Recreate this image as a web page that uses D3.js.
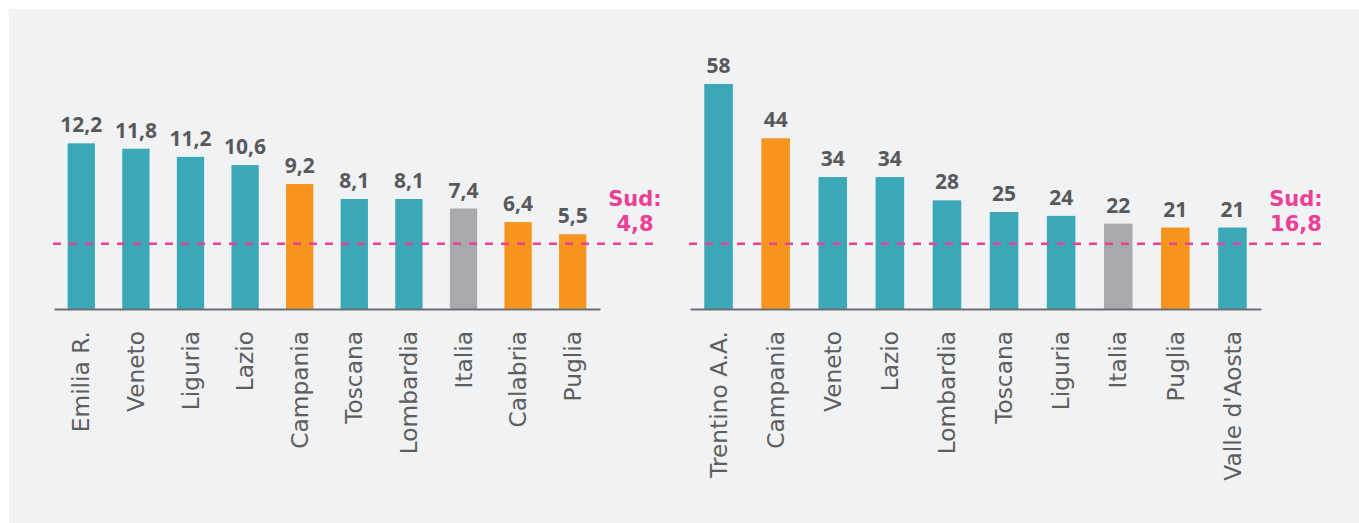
<!DOCTYPE html>
<html>
<head>
<meta charset="utf-8">
<script src="https://cdn.jsdelivr.net/npm/d3@7/dist/d3.min.js"></script>
<style>
  html, body { margin: 0; padding: 0; background: #ffffff; }
  svg { display: block; }
</style>
</head>
<body>
<svg id="chart" width="1359" height="523"></svg>
<script>
// Left panel: regions and values (one decimal)
const leftCategories = ["Emilia R.", "Veneto", "Liguria", "Lazio", "Campania", "Toscana", "Lombardia", "Italia", "Calabria", "Puglia"];
const leftValues = [12.2, 11.8, 11.2, 10.6, 9.2, 8.1, 8.1, 7.4, 6.4, 5.5];
const leftSud = 4.8;

// Right panel: regions and values (integers)
const rightCategories = ["Trentino A.A.", "Campania", "Veneto", "Lazio", "Lombardia", "Toscana", "Liguria", "Italia", "Puglia", "Valle d'Aosta"];
const rightValues = [58, 44, 34, 34, 28, 25, 24, 22, 21, 21];
const rightSud = 16.8;

// Regions of the South are highlighted, the national figure in gray
const southRegions = ["Campania", "Calabria", "Puglia"];
const nationalLabel = "Italia";

const COLORS = { base: "#3ba8b8", south: "#f7941d", national: "#a7a9ac", sud: "#ec3f95", text: "#58595b", axis: "#6d6e71" };

const itLocale = d3.formatLocale({ decimal: ",", thousands: ".", grouping: [3], currency: ["€", ""] });
const fmtDec = itLocale.format(".1f");
const fmtInt = itLocale.format("d");

const svg = d3.select("#chart");

// Panel background
svg.append("rect")
  .attr("x", 9).attr("y", 9)
  .attr("width", 1359 - 9).attr("height", 523 - 9)
  .attr("fill", "#f1f2f4");

const baseY = 309, topY = 37.4;

const panels = [
  { categories: leftCategories, values: leftValues, sud: leftSud, yMax: 20, x0: 54, x1: 600, lineStart: 53, lineExt: 54, valueFmt: fmtDec },
  { categories: rightCategories, values: rightValues, sud: rightSud, yMax: 70, x0: 690, x1: 1261, lineStart: 689, lineExt: 62, valueFmt: fmtInt }
];

function barColor(name) {
  if (name === nationalLabel) return COLORS.national;
  if (southRegions.includes(name)) return COLORS.south;
  return COLORS.base;
}

panels.forEach(p => {
  const data = p.categories.map((c, i) => ({ name: c, value: p.values[i] }));

  const x = d3.scaleBand()
    .domain(p.categories)
    .range([p.x0, p.x1])
    .paddingInner(0.5)
    .paddingOuter(0.25);

  const y = d3.scaleLinear()
    .domain([0, p.yMax])
    .range([baseY, topY]);

  const g = svg.append("g");

  // Bars
  g.selectAll("rect.bar")
    .data(data)
    .join("rect")
    .attr("class", "bar")
    .attr("x", d => x(d.name))
    .attr("y", d => y(d.value))
    .attr("width", x.bandwidth())
    .attr("height", d => y(0) - y(d.value))
    .attr("fill", d => barColor(d.name));

  // Value labels above bars
  g.selectAll("text.value")
    .data(data)
    .join("text")
    .attr("class", "value")
    .attr("x", d => x(d.name) + x.bandwidth() / 2)
    .attr("y", d => y(d.value) - 11)
    .attr("text-anchor", "middle")
    .attr("font-family", "'Open Sans', sans-serif")
    .attr("font-weight", 700)
    .attr("font-size", 21)
    .attr("fill", COLORS.text)
    .text(d => p.valueFmt(d.value));

  // Category axis with rotated labels
  const axis = g.append("g")
    .attr("transform", `translate(0,${baseY})`)
    .call(d3.axisBottom(x).tickSize(0).tickPadding(0));
  axis.select(".domain")
    .attr("stroke", COLORS.axis)
    .attr("stroke-width", 2);
  axis.selectAll(".tick text")
    .attr("transform", "rotate(-90)")
    .attr("x", -22)
    .attr("y", 0)
    .attr("dy", "0.35em")
    .attr("text-anchor", "end")
    .attr("font-family", "'DejaVu Sans', sans-serif")
    .attr("font-size", 23.3)
    .attr("fill", "#5d5e60");

  // Average of the South: dashed reference line
  const sy = y(p.sud);
  g.append("line")
    .attr("x1", p.lineStart)
    .attr("x2", p.x1 + p.lineExt)
    .attr("y1", sy).attr("y2", sy)
    .attr("stroke", COLORS.sud)
    .attr("stroke-width", 2.5)
    .attr("stroke-dasharray", "8,8");

  // Label of the reference line, two lines
  const lines = ["Sud:", fmtDec(p.sud)];
  g.selectAll("text.sud")
    .data(lines)
    .join("text")
    .attr("class", "sud")
    .attr("x", p.x1 + 35)
    .attr("y", (d, i) => sy - 13 - (lines.length - 1 - i) * 24.5)
    .attr("text-anchor", "middle")
    .attr("font-family", "'DejaVu Sans', sans-serif")
    .attr("font-weight", 700)
    .attr("font-size", 21)
    .attr("fill", COLORS.sud)
    .text(d => d);
});
</script>
</body>
</html>
